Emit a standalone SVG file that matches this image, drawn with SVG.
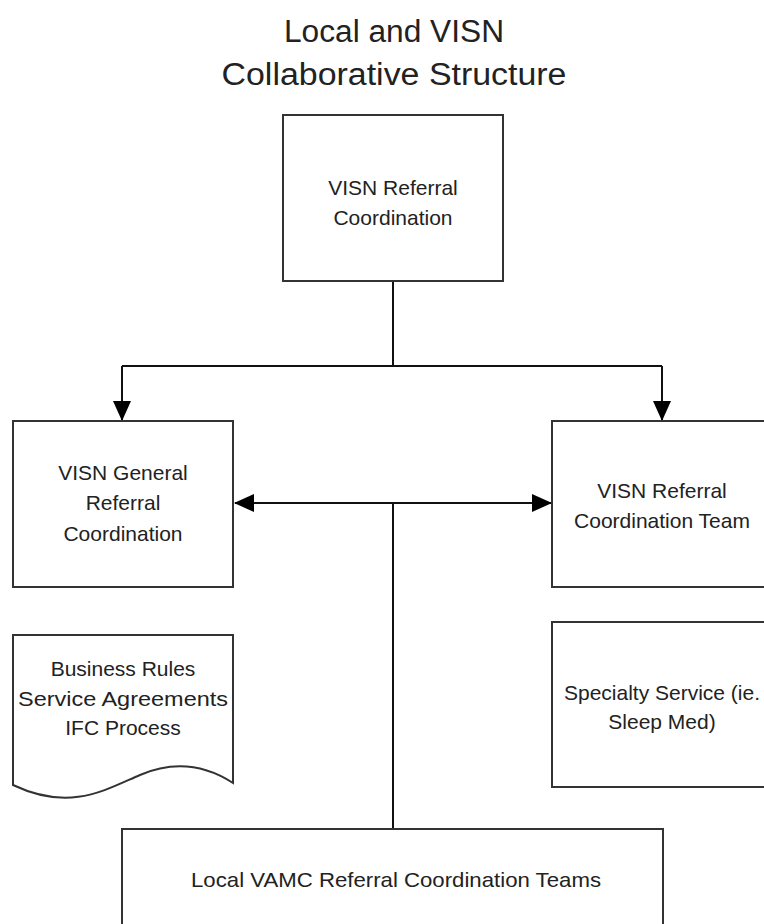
<svg xmlns="http://www.w3.org/2000/svg" width="764" height="924" viewBox="0 0 764 924">
<style>
.box{fill:#fff;stroke:#333;stroke-width:2}
.t{font-family:"Liberation Sans",Arial,sans-serif;font-size:21px;fill:#222;text-anchor:middle}
.title{font-family:"Liberation Sans",Arial,sans-serif;font-size:31px;fill:#222;text-anchor:middle}
.c{fill:none;stroke:#111;stroke-width:2}
</style>
<defs>
<marker id="ah" markerUnits="userSpaceOnUse" markerWidth="20" markerHeight="20" refX="19" refY="9" orient="auto-start-reverse" viewBox="0 0 20 18">
<path d="M0,0 L20,9 L0,18 Z" fill="#000"/>
</marker>
</defs>
<rect width="764" height="924" fill="#fff"/>
<g id="title">
<text class="title" x="394" y="42" textLength="220" lengthAdjust="spacingAndGlyphs">Local and VISN</text>
<text class="title" x="394" y="85" textLength="345" lengthAdjust="spacingAndGlyphs">Collaborative Structure</text>
</g>
<g id="connectors">
<path class="c" d="M393,281 V366"/>
<path class="c" d="M122,366 H662"/>
<path class="c" d="M122,366 V420" marker-end="url(#ah)"/>
<path class="c" d="M662,366 V420" marker-end="url(#ah)"/>
<path class="c" d="M235,503 H551" marker-start="url(#ah)" marker-end="url(#ah)"/>
<path class="c" d="M393,503 V829"/>
</g>
<g id="vision-referral-coordination">
<rect class="box" x="283" y="115" width="220" height="166"/>
<text class="t" x="393" y="195">VISN Referral</text>
<text class="t" x="393" y="225">Coordination</text>
</g>
<g id="vision-general">
<rect class="box" x="13" y="421" width="220" height="166"/>
<text class="t" x="123" y="480">VISN General</text>
<text class="t" x="123" y="510">Referral</text>
<text class="t" x="123" y="541">Coordination</text>
</g>
<g id="vision-team">
<rect class="box" x="552" y="421" width="220" height="166"/>
<text class="t" x="662" y="498">VISN Referral</text>
<text class="t" x="662" y="528">Coordination Team</text>
</g>
<g id="business-rules">
<path class="box" d="M13,635 H233 V783 C205,765 175,760 140,775 C105,790 70,812 13,785 Z"/>
<text class="t" x="123" y="676">Business Rules</text>
<text class="t" x="123" y="706" textLength="210" lengthAdjust="spacingAndGlyphs">Service Agreements</text>
<text class="t" x="123" y="735">IFC Process</text>
</g>
<g id="specialty-service">
<rect class="box" x="552" y="622" width="220" height="165"/>
<text class="t" x="662" y="700">Specialty Service (ie.</text>
<text class="t" x="662" y="729">Sleep Med)</text>
</g>
<g id="local-vamc">
<rect class="box" x="122" y="829" width="541" height="110"/>
<text class="t" x="396" y="887" textLength="410" lengthAdjust="spacingAndGlyphs">Local VAMC Referral Coordination Teams</text>
</g>
</svg>
